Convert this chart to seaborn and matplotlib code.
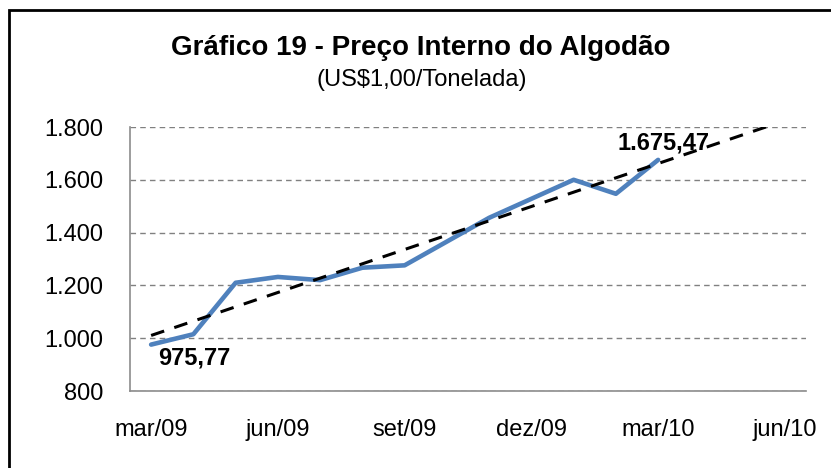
import numpy as np
import pandas as pd
import matplotlib
matplotlib.use("Agg")
import matplotlib.pyplot as plt
import seaborn as sns
from matplotlib.patches import Rectangle

# monthly axis, mar/09 .. jun/10 (labels every 3 months)
months = ["mar/09", "abr/09", "mai/09", "jun/09", "jul/09", "ago/09", "set/09",
          "out/09", "nov/09", "dez/09", "jan/10", "fev/10", "mar/10",
          "abr/10", "mai/10", "jun/10"]
tick_labels = ["mar/09", "jun/09", "set/09", "dez/09", "mar/10", "jun/10"]

# price, US$/t
prices = [975.77, 1015, 1210, 1232, 1220, 1267, 1276, 1366, 1456, 1528, 1600, 1547, 1675.47]

first_label = "975,77"
last_label = "1.675,47"

sns.set_style("white")
plt.rcParams["font.family"] = ["Liberation Sans", "DejaVu Sans"]
plt.rcParams["text.color"] = "black"

df = pd.DataFrame({"x": np.arange(len(prices)), "preco": prices})

fig = plt.figure(figsize=(8.31, 4.68), dpi=100)
ax = fig.add_axes([130 / 831, 1 - 391 / 468, 676 / 831, 264 / 468])

# outer frame (only left/top edges visible in the original)
fig.patches.append(Rectangle((9 / 831, -0.1), 1.2, 1 - 10 / 468 + 0.1,
                             transform=fig.transFigure, fill=False,
                             edgecolor="black", linewidth=2.0))

# linear trend over the observed months, extended to the end of the axis
coef = np.polyfit(df["x"], df["preco"], 1)
trend_x = np.arange(len(months))
trend = pd.DataFrame({"x": trend_x, "t": np.polyval(coef, trend_x)})

sns.lineplot(data=df, x="x", y="preco", ax=ax, color="#4F81BD", linewidth=3.3, zorder=3)
sns.lineplot(data=trend, x="x", y="t", ax=ax, color="black", linewidth=2.2, zorder=4)
ax.lines[-1].set_dashes([4.5, 3.5])

ax.set_xlim(-0.5, len(months) - 0.5)
ax.set_ylim(800, 1800)
ax.set_yticks(np.arange(800, 1801, 200))
ax.set_yticklabels([f"{v:,.0f}".replace(",", ".") for v in np.arange(800, 1801, 200)])
ax.set_xticks([months.index(m) for m in tick_labels])
ax.set_xticklabels(tick_labels)
ax.set_xlabel("")
ax.set_ylabel("")

ax.yaxis.grid(True, color="#808080", linestyle=(0, (4, 3)), linewidth=1.0)
ax.set_axisbelow(True)
for s in ["top", "right"]:
    ax.spines[s].set_visible(False)
for s in ["left", "bottom"]:
    ax.spines[s].set_color("#8c8c8c")
    ax.spines[s].set_linewidth(1.2)
ax.tick_params(axis="y", length=4, color="#8c8c8c", labelsize=17, pad=15,
               labelcolor="black")
ax.tick_params(axis="x", length=0, labelsize=17, pad=20, labelcolor="black")

ax.text(0.17, 925, first_label, fontsize=17, fontweight="bold",
        ha="left", va="center")
ax.text(11.05, 1739, last_label, fontsize=17, fontweight="bold",
        ha="left", va="center", zorder=2)

fig.text(421 / 831, 1 - 48 / 468, "Gráfico 19 - Preço Interno do Algodão",
         fontsize=20, fontweight="bold", ha="center", va="center")
fig.text(422 / 831, 1 - 80 / 468, "(US$1,00/Tonelada)", fontsize=17,
         ha="center", va="center")

fig.savefig("out.png", dpi=100)
